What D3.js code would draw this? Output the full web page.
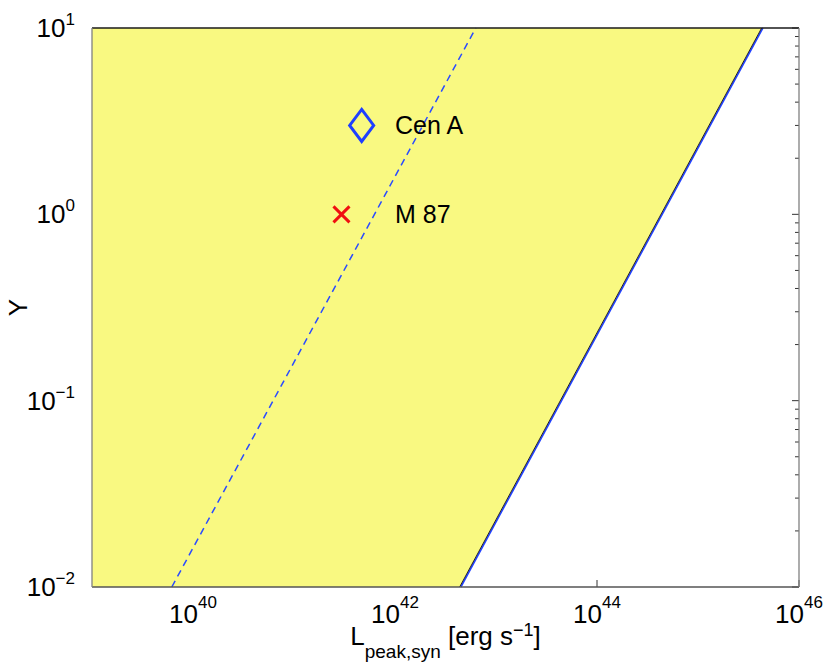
<!DOCTYPE html>
<html>
<head>
<meta charset="utf-8">
<script src="https://cdn.jsdelivr.net/npm/d3@7"></script>
<style>
  body { margin: 0; background: #fff; }
  text { font-family: "Liberation Sans", Arial, sans-serif; fill: #000; }
</style>
</head>
<body>
<script>
// axis ranges and tick exponents
var xDomain = [1e39, 1e46];
var yDomain = [1e-2, 1e1];
var xTickExp = [40, 42, 44, 46];
var yTickExp = [-2, -1, 0, 1];

// allowed region boundary (solid) and dashed line, as (L, Y) endpoints
var boundL = [Math.pow(10, 42.64), Math.pow(10, 45.63)];
var boundY = [1e-2, 1e1];
var dashL = [Math.pow(10, 39.79), Math.pow(10, 42.80)];
var dashY = [1e-2, 1e1];

// sources
var srcNames = ["Cen A", "M 87"];
var srcL = [Math.pow(10, 41.67), Math.pow(10, 41.47)];
var srcY = [3, 1];
var labelL = 1e42;

var width = 830, height = 664;
var pLeft = 92, pRight = 799, pTop = 28, pBottom = 587;

var svg = d3.select("body").append("svg")
    .attr("width", width)
    .attr("height", height);

var x = d3.scaleLog().domain(xDomain).range([pLeft, pRight]);
var y = d3.scaleLog().domain(yDomain).range([pBottom, pTop]);

// minor + major ticks on y (right side, inward)
var yMinor = [];
yTickExp.forEach(function(e) {
  if (e < 1) {
    for (var k = 2; k <= 9; k++) yMinor.push(k * Math.pow(10, e));
  }
});

svg.selectAll(".yminor")
    .data(yMinor)
  .enter().append("line")
    .attr("x1", pRight).attr("x2", pRight - 4)
    .attr("y1", function(d) { return y(d); })
    .attr("y2", function(d) { return y(d); })
    .attr("stroke", "#333").attr("stroke-width", 1);

svg.selectAll(".ymajor")
    .data(yTickExp)
  .enter().append("line")
    .attr("x1", pRight).attr("x2", pRight - 7)
    .attr("y1", function(d) { return y(Math.pow(10, d)); })
    .attr("y2", function(d) { return y(Math.pow(10, d)); })
    .attr("stroke", "#333").attr("stroke-width", 1);

svg.selectAll(".xmajor")
    .data(xTickExp)
  .enter().append("line")
    .attr("x1", function(d) { return x(Math.pow(10, d)); })
    .attr("x2", function(d) { return x(Math.pow(10, d)); })
    .attr("y1", pBottom).attr("y2", pBottom - 7)
    .attr("stroke", "#333").attr("stroke-width", 1);

var ln = d3.line().x(function(d) { return x(d[0]); }).y(function(d) { return y(d[1]); });

// yellow region left of the boundary
var poly = [
  [xDomain[0], boundY[0]],
  [boundL[0], boundY[0]],
  [boundL[1], boundY[1]],
  [xDomain[0], boundY[1]]
];
svg.append("path")
    .attr("d", ln(poly) + "Z")
    .attr("fill", "#f9f981");

// boundary: blue line with black edge
var boundPts = [[boundL[0], boundY[0]], [boundL[1], boundY[1]]];
svg.append("path")
    .attr("d", ln(boundPts))
    .attr("transform", "translate(1.2,0)")
    .attr("stroke", "#2040ff").attr("stroke-width", 1.6).attr("fill", "none");
svg.append("path")
    .attr("d", ln(boundPts))
    .attr("stroke", "#111").attr("stroke-width", 0.9).attr("fill", "none");

// dashed line
svg.append("path")
    .attr("d", ln([[dashL[0], dashY[0]], [dashL[1], dashY[1]]]))
    .attr("stroke", "#2a4bff").attr("stroke-width", 1.5)
    .attr("stroke-dasharray", "7,5").attr("fill", "none");

// frame
svg.append("line").attr("x1", pLeft).attr("x2", pRight).attr("y1", pTop).attr("y2", pTop)
    .attr("stroke", "#1a1a1a").attr("stroke-width", 1.3);
svg.append("line").attr("x1", pLeft).attr("x2", pRight).attr("y1", pBottom).attr("y2", pBottom)
    .attr("stroke", "#555").attr("stroke-width", 1.3);
svg.append("line").attr("x1", pLeft).attr("x2", pLeft).attr("y1", pTop).attr("y2", pBottom)
    .attr("stroke", "#808080").attr("stroke-width", 1.3);
svg.append("line").attr("x1", pRight).attr("x2", pRight).attr("y1", pTop).attr("y2", pBottom)
    .attr("stroke", "#808080").attr("stroke-width", 1.3);

// markers
var cx0 = x(srcL[0]), cy0 = y(srcY[0]);
svg.append("path")
    .attr("d", "M" + cx0 + "," + (cy0 - 16) + "L" + (cx0 + 12) + "," + cy0 +
               "L" + cx0 + "," + (cy0 + 16) + "L" + (cx0 - 12) + "," + cy0 + "Z")
    .attr("fill", "none").attr("stroke", "#1f3fff").attr("stroke-width", 3);

var cx1 = x(srcL[1]), cy1 = y(srcY[1]);
svg.append("path")
    .attr("d", "M" + (cx1 - 8) + "," + (cy1 - 8) + "L" + (cx1 + 8) + "," + (cy1 + 8) +
               "M" + (cx1 - 8) + "," + (cy1 + 8) + "L" + (cx1 + 8) + "," + (cy1 - 8))
    .attr("stroke", "#f01010").attr("stroke-width", 3).attr("fill", "none");

svg.selectAll(".srclabel")
    .data(srcNames)
  .enter().append("text")
    .attr("x", x(labelL))
    .attr("y", function(d, i) { return y(srcY[i]) + 9; })
    .attr("font-size", 25)
    .text(function(d) { return d; });

// x tick labels
xTickExp.forEach(function(e) {
  var t = svg.append("text")
      .attr("x", x(Math.pow(10, e)))
      .attr("y", pBottom + 36)
      .attr("text-anchor", "middle")
      .attr("font-size", 26);
  t.append("tspan").text("10");
  t.append("tspan").attr("dy", -15).attr("font-size", 17).text(e);
});

// y tick labels
yTickExp.forEach(function(e) {
  var t = svg.append("text")
      .attr("x", 75)
      .attr("y", y(Math.pow(10, e)) + 9)
      .attr("text-anchor", "end")
      .attr("font-size", 26);
  t.append("tspan").text("10");
  t.append("tspan").attr("dy", -12).attr("font-size", 17).text(String(e).replace("-", "\u2212"));
});

// axis labels
var xl = svg.append("text")
    .attr("x", (pLeft + pRight) / 2)
    .attr("y", 645)
    .attr("text-anchor", "middle")
    .attr("font-size", 26);
xl.append("tspan").text("L");
xl.append("tspan").attr("dy", 13).attr("font-size", 19).text("peak,syn");
xl.append("tspan").attr("dy", -13).text(" [erg s");
xl.append("tspan").attr("dy", -9).attr("font-size", 18).text("\u22121");
xl.append("tspan").attr("dy", 9).text("]");

svg.append("text")
    .attr("transform", "translate(27," + ((pTop + pBottom) / 2) + ") rotate(-90)")
    .attr("text-anchor", "middle")
    .attr("font-size", 26)
    .text("Y");
</script>
</body>
</html>
